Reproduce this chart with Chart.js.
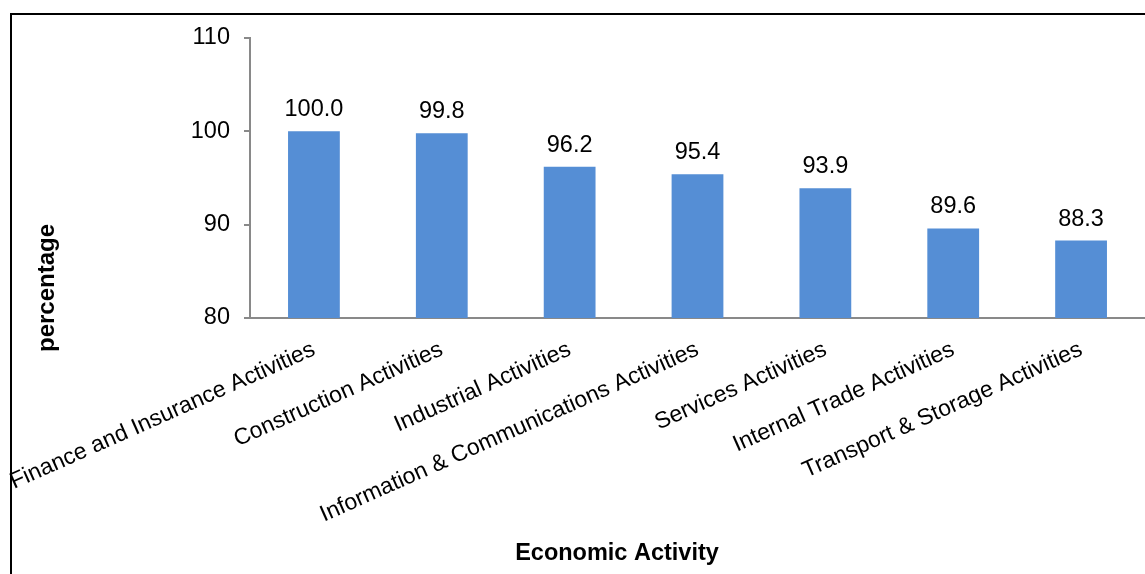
<!DOCTYPE html>
<html>
<head>
<meta charset="utf-8">
<script src="https://cdn.jsdelivr.net/npm/chart.js@4.4.1/dist/chart.umd.min.js"></script>
<style>
  html, body { margin: 0; padding: 0; background: #fff; }
  #wrap { position: relative; width: 1145px; height: 574px; }
</style>
</head>
<body>
<div id="wrap"><canvas id="c" width="1145" height="574"></canvas></div>
<script>
// categories + values
const categories = [
  'Finance and Insurance Activities',
  'Construction Activities',
  'Industrial Activities',
  'Information & Communications Activities',
  'Services Activities',
  'Internal Trade Activities',
  'Transport & Storage Activities'
];
const values = [100.0, 99.8, 96.2, 95.4, 93.9, 89.6, 88.3];
const yTicks = [80, 90, 100, 110];

const FONT = "'Liberation Sans', Arial, sans-serif";
const AXIS = '#898989';

// value labels above bars
const valueLabels = {
  id: 'valueLabels',
  afterDatasetsDraw(chart) {
    const ctx = chart.ctx;
    const meta = chart.getDatasetMeta(0);
    ctx.save();
    ctx.font = '23.5px ' + FONT;
    ctx.fillStyle = '#000';
    ctx.textAlign = 'center';
    ctx.textBaseline = 'alphabetic';
    meta.data.forEach((bar, i) => {
      ctx.fillText(values[i].toFixed(1), bar.x, bar.y - 15);
    });
    ctx.restore();
  }
};

// frame + axis titles
const decor = {
  id: 'decor',
  afterDraw(chart) {
    const ctx = chart.ctx;
    ctx.save();
    ctx.strokeStyle = '#000';
    ctx.lineWidth = 2;
    ctx.beginPath();
    ctx.moveTo(11, 574);
    ctx.lineTo(11, 14);
    ctx.lineTo(1145, 14);
    ctx.stroke();

    ctx.fillStyle = '#000';
    ctx.font = 'bold 23.5px ' + FONT;
    ctx.textAlign = 'center';
    ctx.textBaseline = 'alphabetic';
    ctx.fillText('Economic Activity', 617, 560);

    ctx.font = 'bold 24px ' + FONT;
    ctx.translate(47, 288);
    ctx.rotate(-Math.PI / 2);
    ctx.textBaseline = 'middle';
    ctx.fillText('percentage', 0, 0);
    ctx.restore();
  }
};

new Chart(document.getElementById('c'), {
  type: 'bar',
  data: {
    labels: categories,
    datasets: [{
      data: values,
      backgroundColor: '#558ed5',
      borderWidth: 0,
      barPercentage: 0.81,
      categoryPercentage: 0.5
    }]
  },
  options: {
    responsive: false,
    animation: false,
    layout: { padding: { top: 38, left: 0, right: 0, bottom: 0 } },
    plugins: { legend: { display: false }, tooltip: { enabled: false } },
    scales: {
      x: {
        grid: { display: false, drawTicks: false },
        border: { display: true, color: AXIS, width: 2 },
        ticks: {
          autoSkip: false,
          minRotation: 24,
          maxRotation: 24,
          padding: 18,
          color: '#000',
          font: { family: FONT, size: 23 }
        },
        afterFit(scale) {
          scale.height = 256;
          scale.paddingLeft = 0;
          scale.paddingRight = 0;
        }
      },
      y: {
        min: 80,
        max: 110,
        afterBuildTicks(scale) {
          scale.ticks = yTicks.map(v => ({ value: v }));
        },
        grid: {
          display: true,
          drawOnChartArea: false,
          drawTicks: true,
          tickLength: 6,
          color: AXIS,
          lineWidth: 2
        },
        border: { display: true, color: AXIS, width: 2 },
        ticks: {
          padding: 14,
          color: '#000',
          font: { family: FONT, size: 23.5 }
        },
        afterFit(scale) {
          scale.width = 250;
        }
      }
    }
  },
  plugins: [valueLabels, decor]
});
</script>
</body>
</html>
